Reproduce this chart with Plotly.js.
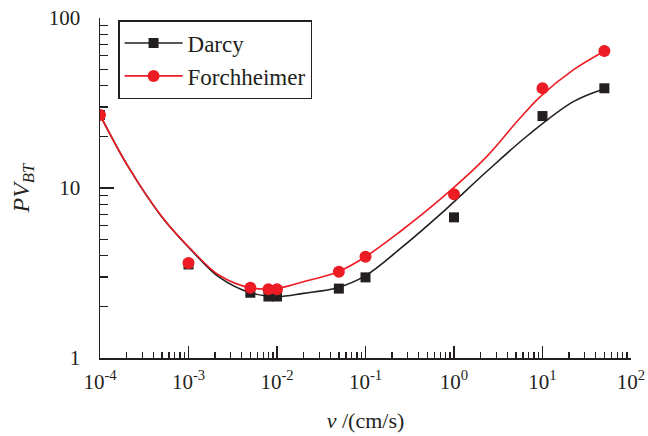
<!DOCTYPE html>
<html>
<head>
<meta charset="utf-8">
<script src="https://cdn.plot.ly/plotly-3.0.1.min.js"></script>
<style>html,body{margin:0;padding:0;background:#fff;}#chart{width:648px;height:436px;}</style>
</head>
<body>
<div id="chart"></div>
<script>
// Measured points
var velocity = [1e-4, 1e-3, 5e-3, 8e-3, 1e-2, 5e-2, 0.1, 1, 10, 50];
var darcyPV = [26.9, 3.55, 2.42, 2.30, 2.30, 2.56, 2.98, 6.72, 26.5, 38.6];
var forchPV = [26.9, 3.62, 2.59, 2.54, 2.54, 3.22, 3.94, 9.18, 38.6, 63.9];

// Fitted curves
var darcyCurveV = [1e-4, 2.09e-4, 4.98e-4, 1.18e-3, 2.2e-3, 5e-3, 1e-2, 1.98e-2, 4.93e-2, 0.1, 0.245, 0.757, 2.34, 6.92, 22.3, 48.6];
var darcyCurve  = [26.9, 13.3, 6.78, 4.10, 3.00, 2.42, 2.30, 2.40, 2.60, 3.05, 4.38, 7.26, 12.5, 20.5, 32.2, 38.1];
var forchCurveV = [1e-4, 2.09e-4, 4.98e-4, 1.18e-3, 2.2e-3, 5e-3, 1e-2, 1.98e-2, 4.93e-2, 0.1, 0.245, 0.757, 2.34, 5.33, 9.38, 22.3, 48.6];
var forchCurve  = [26.9, 13.3, 6.80, 4.13, 3.08, 2.59, 2.57, 2.81, 3.22, 3.94, 5.53, 8.89, 15.3, 25.1, 34.4, 49.5, 63.3];

var seriesNames = ['Darcy', 'Forchheimer'];
var xTickVals = [1e-4, 1e-3, 1e-2, 1e-1, 1, 10, 100];
var xTickText = ['10<sup>-4</sup>', '10<sup>-3</sup>', '10<sup>-2</sup>', '10<sup>-1</sup>', '10<sup>0</sup>', '10<sup>1</sup>', '10<sup>2</sup>'];
var yTickVals = [1, 10, 100];
var yTickText = ['1', '10', '100'];

function minorVals(lo, hi) {
  var out = [];
  for (var e = lo; e < hi; e++) {
    for (var k = 2; k <= 9; k++) out.push(k * Math.pow(10, e));
  }
  return out;
}

var black = '#231f20';
var red = '#ed1c24';
var serif = "'Liberation Serif', 'Times New Roman', serif";

var traces = [
  {x: darcyCurveV, y: darcyCurve, mode: 'lines', line: {color: black, width: 1.6, shape: 'spline', smoothing: 1}, showlegend: false, hoverinfo: 'skip'},
  {x: forchCurveV, y: forchCurve, mode: 'lines', line: {color: red, width: 1.6, shape: 'spline', smoothing: 1}, showlegend: false, hoverinfo: 'skip'},
  {x: velocity, y: darcyPV, mode: 'markers', marker: {symbol: 'square', size: 10, color: black}, showlegend: false},
  {x: velocity, y: forchPV, mode: 'markers', marker: {symbol: 'circle', size: 12, color: red}, showlegend: false},
  {x: [null], y: [null], name: seriesNames[0], mode: 'lines+markers', line: {color: black, width: 1.6}, marker: {symbol: 'square', size: 10, color: black}},
  {x: [null], y: [null], name: seriesNames[1], mode: 'lines+markers', line: {color: red, width: 1.6}, marker: {symbol: 'circle', size: 12, color: red}}
];

var tickFont = {family: serif, size: 21, color: '#231f20'};

var layout = {
  width: 648, height: 436,
  margin: {l: 100, r: 17, t: 18, b: 78},
  paper_bgcolor: '#fff', plot_bgcolor: '#fff',
  showlegend: true,
  legend: {x: 0.034, y: 0.994, xanchor: 'left', yanchor: 'top', bordercolor: '#231f20', borderwidth: 1.5, bgcolor: '#fff',
           font: {family: serif, size: 23, color: '#231f20'}, tracegroupgap: 0, itemwidth: 58},
  xaxis: {
    type: 'log', range: [-4, 2], showgrid: false, zeroline: false,
    showline: true, linecolor: '#231f20', linewidth: 1.5, mirror: false,
    tickmode: 'array', tickvals: xTickVals, ticktext: xTickText,
    ticks: 'inside', ticklen: 12, tickwidth: 1.3, tickcolor: '#231f20',
    minor: {tickmode: 'array', tickvals: minorVals(-4, 2), ticks: 'inside', ticklen: 6, tickwidth: 1.3, tickcolor: '#231f20', showgrid: false},
    tickfont: tickFont, ticklabelstandoff: 4,
    title: {text: '<i>v</i> /(cm/s)', font: {family: serif, size: 22, color: '#231f20'}, standoff: 20}
  },
  yaxis: {
    type: 'log', range: [0, 2], showgrid: false, zeroline: false,
    showline: true, linecolor: '#231f20', linewidth: 1.5, mirror: false,
    tickmode: 'array', tickvals: yTickVals, ticktext: yTickText,
    ticks: 'inside', ticklen: 14, tickwidth: 1.3, tickcolor: '#231f20',
    minor: {tickmode: 'array', tickvals: minorVals(0, 2), ticks: 'inside', ticklen: 8, tickwidth: 1.3, tickcolor: '#231f20', showgrid: false},
    tickfont: tickFont, ticklabelstandoff: 14,
    title: {text: '<i>PV</i><sub><i>BT</i></sub>', font: {family: serif, size: 24, color: '#231f20'}, standoff: 12}
  }
};

Plotly.newPlot('chart', traces, layout, {displayModeBar: false, staticPlot: true});
</script>
</body>
</html>
